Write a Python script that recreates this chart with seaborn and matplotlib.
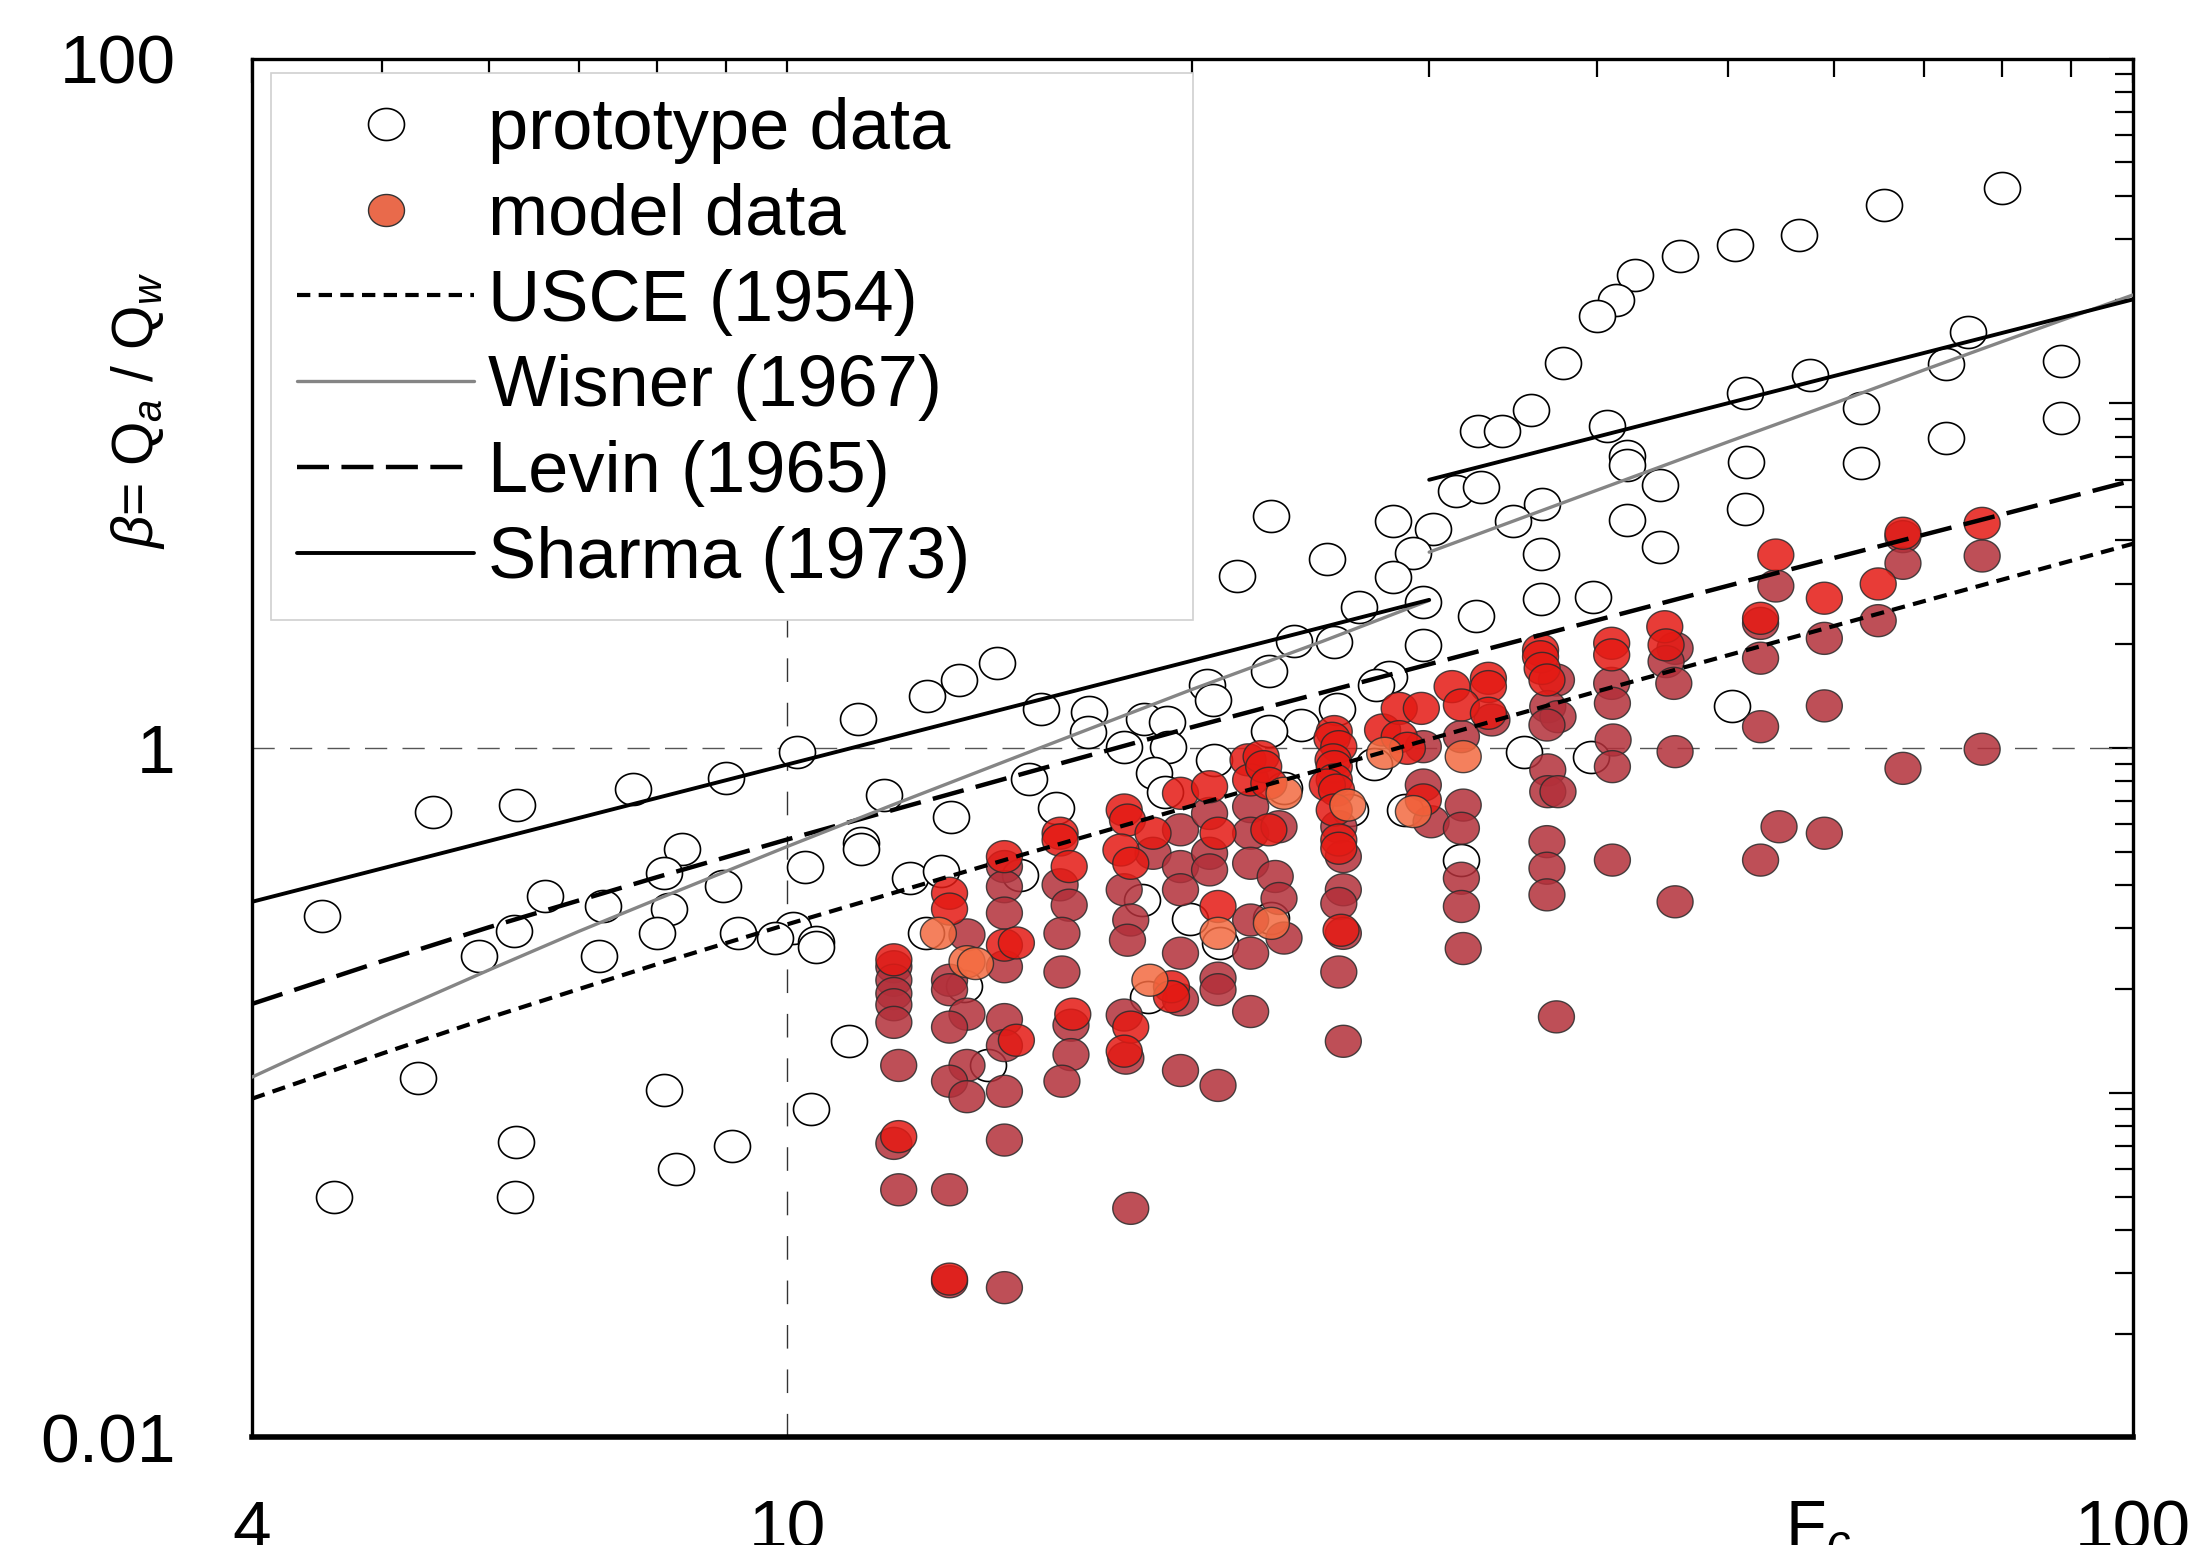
import numpy as np
import pandas as pd
import matplotlib
matplotlib.use("Agg")
import matplotlib.pyplot as plt
import seaborn as sns
from matplotlib.path import Path
from matplotlib.lines import Line2D
from matplotlib.patches import Rectangle
from matplotlib.ticker import LogLocator, NullFormatter, FixedLocator, FixedFormatter

# ---------------- data ----------------
proto_fc = [4.51, 5.45, 6.30, 7.68, 9.00, 6.60, 6.26, 5.90, 7.30, 7.25,
            8.35, 8.10, 8.17, 8.00, 8.96, 9.19, 5.31, 4.60, 6.28, 6.27,
            8.09, 8.27, 9.10, 10.16, 11.29, 12.70, 13.42, 14.32, 15.43, 16.77,
            16.74, 17.80, 18.41, 19.15, 19.18, 20.50, 20.71, 20.74, 11.79, 15.12,
            15.83, 13.23, 11.34, 11.34, 10.30, 12.34, 13.00, 18.74, 19.09, 14.88,
            18.34, 19.93, 20.98, 12.67, 10.10, 9.79, 10.50, 10.50, 13.52, 10.42,
            11.12, 14.10, 18.55, 42.7, 41.3, 40.0, 37.7, 35.7, 32.6, 34.0,
            40.7, 42.1, 42.1, 31.4, 32.8, 36.4, 34.6, 42.1, 36.3, 22.9,
            25.2, 21.6, 28.2, 30.2, 29.2, 28.2, 26.6, 29.7, 32.5, 36.3,
            39.7, 23.8, 25.5, 29.7, 46.1, 50.6, 56.5, 65.4, 80.0, 75.4,
            72.6, 88.4, 88.4, 57.6, 51.5, 62.8, 72.6, 51.6, 62.8, 51.5,
            44.5, 44.5, 50.4, 35.3, 39.6, 22.8, 28.0, 27.4, 25.6, 24.1,
            22.8, 27.3, 23.4, 26.2, 28.8, 31.7, 22.9]
proto_beta = [0.326, 0.651, 0.682, 0.761, 0.821, 0.371, 0.295, 0.250, 0.349, 0.250,
              0.509, 0.433, 0.341, 0.290, 0.399, 0.290, 0.110, 0.0497, 0.0721, 0.0497,
              0.102, 0.0600, 0.0701, 0.971, 1.21, 1.42, 1.57, 1.77, 1.30, 1.27,
              1.11, 1.01, 1.21, 1.19, 1.01, 1.52, 1.38, 0.924, 0.731, 0.813,
              0.668, 0.630, 0.529, 0.511, 0.451, 0.421, 0.441, 0.845, 0.747, 0.428,
              0.362, 0.319, 0.272, 0.290, 0.300, 0.281, 0.274, 0.265, 0.204, 0.0895,
              0.141, 0.120, 0.190, 23.5, 20.0, 17.9, 13.1, 9.53, 8.32, 8.32,
              8.62, 7.01, 6.62, 5.57, 5.73, 5.10, 4.56, 4.59, 3.65, 4.71,
              3.53, 3.16, 4.57, 4.32, 3.67, 3.14, 2.57, 2.66, 2.41, 2.70,
              2.74, 2.05, 2.03, 1.99, 26.8, 28.7, 30.7, 37.7, 42.0, 16.1,
              13.0, 13.3, 9.05, 12.1, 10.7, 9.67, 7.91, 6.74, 6.70, 4.93,
              5.80, 3.84, 1.32, 0.976, 0.942, 1.67, 1.61, 1.52, 1.30, 1.17,
              1.12, 0.897, 0.764, 0.661, 0.661, 0.473, 0.321]

model_fc = [12.0, 12.0, 12.0, 12.0, 12.0, 12.0, 12.1, 12.1, 12.0, 12.1,
            13.2, 13.2, 12.95, 13.6, 13.6, 13.8, 13.2, 13.2, 13.6, 13.2, 13.6, 13.2, 13.6, 13.2, 13.2, 13.2,
            14.5, 14.5, 14.5, 14.5, 14.5, 14.8, 14.5, 14.5, 14.8, 14.5, 14.5, 14.5, 14.5,
            15.95, 15.95, 16.2, 15.95, 16.2, 16.0, 16.0, 16.3, 16.25, 16.25, 16.0,
            17.8, 17.9, 17.7, 18.0, 17.8, 18.0, 17.9, 17.8, 18.0, 17.8, 17.85, 18.0,
            18.7, 18.7, 18.6, 19.3, 19.3,
            19.6, 19.6, 19.6, 19.6, 19.6, 19.6, 19.6,
            20.6, 20.6, 20.9, 20.6, 20.6, 20.9, 20.9, 20.9, 20.9, 20.9,
            22.0, 22.1, 22.1, 22.1, 22.1, 22.1, 22.1, 22.1,
            22.5, 22.6, 22.8, 22.8, 23.2, 23.05, 23.2, 23.4, 22.9, 23.4,
            25.5, 25.4, 25.7, 25.45, 25.5, 25.5, 25.2, 25.6, 25.5, 26.1,
            25.7, 25.7, 25.7, 25.9, 25.9, 25.7, 25.8, 25.9, 25.7, 25.9,
            27.7, 28.5, 29.6, 28.5, 28.9, 29.7, 27.8, 29.7, 29.7, 30.1, 29.2,
            31.2, 33.2, 33.2, 31.7, 33.2, 33.4, 31.7, 31.8, 31.8, 31.7, 31.7, 31.7, 31.8,
            36.3, 36.3, 36.4, 37.3, 36.7, 36.75, 37.4, 36.7, 36.75, 36.75, 37.4, 36.7, 36.7, 36.7, 37.3,
            41.0, 41.0, 41.0, 41.05, 41.1, 41.05, 41.05,
            44.9, 45.0, 45.7, 45.0, 45.6, 45.7, 45.7,
            54.3, 54.3, 52.9, 52.9, 52.9, 52.9, 54.6, 52.9,
            59.0, 59.0, 59.0, 59.0,
            64.7, 64.7,
            67.5, 67.5, 67.5, 67.5,
            77.3, 77.3, 77.3]
model_beta = [0.243, 0.232, 0.212, 0.194, 0.180, 0.160, 0.120, 0.0746, 0.0713, 0.0523,
              0.379, 0.341, 0.290, 0.287, 0.240, 0.237, 0.212, 0.199, 0.169, 0.155, 0.120, 0.108, 0.0974, 0.0523, 0.0288, 0.0283,
              0.484, 0.453, 0.396, 0.332, 0.268, 0.272, 0.232, 0.163, 0.142, 0.137, 0.101, 0.0729, 0.0272,
              0.566, 0.541, 0.453, 0.401, 0.350, 0.290, 0.224, 0.169, 0.157, 0.129, 0.108,
              0.661, 0.618, 0.506, 0.463, 0.388, 0.317, 0.277, 0.168, 0.155, 0.132, 0.126, 0.0462,
              0.566, 0.495, 0.212, 0.203, 0.190,
              0.739, 0.579, 0.453, 0.388, 0.254, 0.186, 0.116,
              0.772, 0.646, 0.566, 0.495, 0.443, 0.347, 0.290, 0.215, 0.199, 0.105,
              0.924, 0.808, 0.676, 0.566, 0.463, 0.317, 0.254, 0.172,
              0.944, 0.883, 0.790, 0.579, 0.591, 0.424, 0.366, 0.281, 0.310, 0.739,
              1.116, 1.067, 1.009, 0.924, 0.883, 0.808, 0.781, 0.755, 0.661, 0.683,
              0.591, 0.541, 0.512, 0.484, 0.388, 0.354, 0.296, 0.290, 0.224, 0.141,
              1.128, 1.303, 1.303, 1.079, 0.998, 1.009, 0.965, 0.781, 0.707, 0.611, 0.654,
              1.507, 1.593, 1.507, 1.333, 1.261, 1.206, 1.079, 0.944, 0.683, 0.585, 0.419, 0.347, 0.262,
              1.924, 1.840, 1.702, 1.575, 1.575, 1.318, 1.233, 1.166, 0.864, 0.747, 0.747, 0.535, 0.448, 0.375, 0.166,
              2.013, 1.863, 1.540, 1.348, 1.055, 0.883, 0.473,
              2.248, 1.991, 1.946, 1.781, 1.540, 0.976, 0.358,
              3.629, 2.951, 2.378, 2.299, 1.822, 1.153, 0.591, 0.473,
              2.720, 2.080, 1.325, 0.566,
              2.992, 2.341,
              4.197, 4.104, 3.434, 0.873,
              4.484, 3.606, 0.992]
model_group = ['b', 'm', 'm', 'm', 'm', 'm', 'm', 'b', 'm', 'm',
               'b', 'b', 'o', 'm', 'o', 'o', 'm', 'm', 'm', 'm', 'm', 'm', 'm', 'm', 'b', 'm',
               'b', 'm', 'm', 'm', 'b', 'b', 'm', 'm', 'b', 'm', 'm', 'm', 'm',
               'b', 'b', 'b', 'm', 'm', 'm', 'm', 'b', 'm', 'm', 'm',
               'b', 'b', 'b', 'b', 'm', 'm', 'm', 'm', 'b', 'b', 'm', 'm',
               'b', 'm', 'o', 'b', 'b',
               'b', 'm', 'm', 'm', 'm', 'm', 'm',
               'b', 'm', 'b', 'm', 'm', 'b', 'o', 'm', 'm', 'm',
               'b', 'b', 'm', 'm', 'm', 'm', 'm', 'm',
               'b', 'b', 'b', 'b', 'm', 'm', 'm', 'm', 'o', 'o',
               'b', 'b', 'b', 'b', 'b', 'b', 'b', 'b', 'b', 'o',
               'm', 'b', 'b', 'm', 'm', 'm', 'b', 'm', 'm', 'm',
               'b', 'b', 'b', 'b', 'b', 'm', 'o', 'm', 'b', 'm', 'o',
               'b', 'b', 'b', 'b', 'b', 'm', 'm', 'o', 'm', 'm', 'm', 'm', 'm',
               'b', 'b', 'b', 'm', 'b', 'm', 'm', 'm', 'm', 'm', 'm', 'm', 'm', 'm', 'm',
               'b', 'b', 'm', 'm', 'm', 'm', 'm',
               'b', 'b', 'm', 'm', 'm', 'm', 'm',
               'b', 'm', 'b', 'm', 'm', 'm', 'm', 'm',
               'b', 'm', 'm', 'm',
               'b', 'm',
               'b', 'm', 'm', 'm',
               'b', 'm', 'm']

usce_fc = [4, 5, 6, 8, 10, 15, 20, 30, 40, 60, 80, 100]
usce_beta = [0.0961, 0.130, 0.165, 0.236, 0.308, 0.492, 0.680, 1.06, 1.46, 2.26, 3.08, 3.91]
levin_fc = [4, 5, 6, 8, 10, 15, 20, 30, 40, 60, 80, 100]
levin_beta = [0.181, 0.241, 0.302, 0.422, 0.543, 0.844, 1.15, 1.75, 2.35, 3.56, 4.76, 5.97]
wisner1_fc = [4, 5, 6, 7, 8, 10, 12, 15, 20, 25, 30]
wisner1_beta = [0.111, 0.166, 0.227, 0.294, 0.364, 0.518, 0.686, 0.961, 1.48, 2.04, 2.68]
wisner2_fc = [30, 40, 50, 60, 70, 80, 90, 100]
wisner2_beta = [3.70, 5.60, 7.72, 10.0, 12.5, 15.1, 17.8, 20.6]
sharma1_fc = [4, 30]
sharma1_beta = [0.358, 2.69]
sharma2_fc = [30, 100]
sharma2_beta = [6.0, 20.0]

legend_labels = ["prototype data", "model data", "USCE (1954)",
                 "Wisner (1967)", "Levin (1965)", "Sharma (1973)"]
x_tick_values = [4, 10, 100]
x_tick_labels = ["4", "10", "100"]
y_tick_values = [0.01, 0.1, 1, 10, 100]
y_tick_labels = ["0.01", "", "1", "", "100"]

# ---------------- style ----------------
sns.set_theme(style="white")
plt.rcParams['font.family'] = ['Liberation Sans', 'DejaVu Sans']
plt.rcParams['mathtext.fontset'] = 'custom'
plt.rcParams['mathtext.rm'] = 'Liberation Sans'
plt.rcParams['mathtext.it'] = 'Liberation Sans:italic'
plt.rcParams['mathtext.bf'] = 'Liberation Sans:bold'
for key in ['text.color', 'axes.labelcolor', 'xtick.color', 'ytick.color',
            'axes.edgecolor']:
    plt.rcParams[key] = 'black'

fig = plt.figure(figsize=(21.99, 15.45), dpi=100)
fig.patch.set_facecolor('white')
ax = fig.add_axes([0.1146, 0.0696, 0.8552, 0.8925])
ax.set_facecolor('white')
ax.set_xscale('log')
ax.set_yscale('log')

# slightly wide ellipse marker
theta = np.linspace(0, 2 * np.pi, 73)
ell = Path(np.column_stack([np.cos(theta), 0.89 * np.sin(theta)]), closed=True)
MS = 671  # scatter size (pt^2)

# reference lines
ax.axhline(1, color='#555555', lw=1.0, dashes=(16, 11), zorder=1)
ax.axvline(10, color='#333333', lw=1.0, dashes=(17, 15), zorder=1)

proto_df = pd.DataFrame({'Fc': proto_fc, 'beta': proto_beta})
sns.scatterplot(data=proto_df, x='Fc', y='beta', marker=ell, s=MS, color='white',
                edgecolor='black', linewidth=1.2, ax=ax, zorder=2, legend=False)

model_df = pd.DataFrame({'Fc': model_fc, 'beta': model_beta, 'group': model_group})
model_df['order'] = model_df['group'].map({'m': 0, 'b': 1, 'o': 2})
model_df = model_df.sort_values('order', kind='stable')
sns.scatterplot(data=model_df, x='Fc', y='beta', hue='group',
                palette={'m': '#B3303A', 'b': '#E41A14', 'o': '#F36A40'},
                marker=ell, s=MS, edgecolor='#2b2b2b', linewidth=1.0, alpha=0.85,
                ax=ax, zorder=3, legend=False)


def draw(xs, ys, color, lw, dashes=None):
    sns.lineplot(x=xs, y=ys, ax=ax, color=color, linewidth=lw, estimator=None,
                 sort=False, zorder=4)
    line = ax.lines[-1]
    if dashes is not None:
        line.set_dashes(dashes)
    return line


draw(usce_fc, usce_beta, 'black', 3.0, (3.2, 2.0))
draw(levin_fc, levin_beta, 'black', 3.2, (7.2, 2.8))
draw(wisner1_fc, wisner1_beta, '#858585', 2.4)
draw(wisner2_fc, wisner2_beta, '#858585', 2.4)
draw(sharma1_fc, sharma1_beta, 'black', 2.8)
draw(sharma2_fc, sharma2_beta, 'black', 2.8)

ax.set_xlim(4, 100)
ax.set_ylim(0.01, 100)

# ticks
ax.xaxis.set_major_locator(FixedLocator(x_tick_values))
ax.xaxis.set_major_formatter(FixedFormatter(x_tick_labels))
ax.xaxis.set_minor_locator(LogLocator(base=10, subs=np.arange(2, 10)))
ax.xaxis.set_minor_formatter(NullFormatter())
ax.yaxis.set_major_locator(FixedLocator(y_tick_values))
ax.yaxis.set_major_formatter(FixedFormatter(y_tick_labels))
ax.yaxis.set_minor_locator(LogLocator(base=10, subs=np.arange(2, 10)))
ax.yaxis.set_minor_formatter(NullFormatter())
ax.tick_params(which='both', direction='in', top=True, right=True, width=1.6,
               color='black', labelcolor='black')
ax.tick_params(which='major', length=17)
ax.tick_params(which='minor', length=13)
ax.tick_params(axis='y', which='major', labelsize=50, pad=55)
ax.tick_params(axis='x', which='major', labelsize=50, pad=44)

for s in ['left', 'right', 'top']:
    ax.spines[s].set_linewidth(2.4)
    ax.spines[s].set_color('black')
ax.spines['bottom'].set_linewidth(4.0)
ax.spines['bottom'].set_color('black')
ax.grid(False)

ax.set_xlabel('F$_c$', fontsize=48, color='black')
ax.xaxis.set_label_coords(0.833, -0.044)
ax.set_ylabel(r'$\beta$= Q$_a$ / Q$_w$', fontsize=41, color='black')
ax.yaxis.set_label_coords(-0.045, 0.745)

# legend with its own frame
rect = Rectangle((0.0099, 0.5929), 0.4907, 0.3967, transform=ax.transAxes,
                 facecolor='white', edgecolor='#d0d0d0', lw=1.2, zorder=5)
ax.add_patch(rect)
handles = [
    Line2D([], [], ls='none', marker=ell, ms=25.9, mfc='white', mec='black', mew=1.2),
    Line2D([], [], ls='none', marker=ell, ms=25.9, mfc='#E96A4B', mec='#333333', mew=1.0),
    Line2D([], [], color='black', lw=3.0, dashes=(3.2, 2.0)),
    Line2D([], [], color='#858585', lw=2.4),
    Line2D([], [], color='black', lw=3.2, dashes=(7.2, 2.8)),
    Line2D([], [], color='black', lw=2.8),
]
leg = ax.legend(handles, legend_labels, loc='upper left', bbox_to_anchor=(0.0241, 0.9721),
                borderaxespad=0, borderpad=0, frameon=False, fontsize=52,
                handlelength=2.45, handletextpad=0.19, labelspacing=0.26,
                labelcolor='black')
leg.set_zorder(6)

fig.savefig('out.png', dpi=100, facecolor='white')
